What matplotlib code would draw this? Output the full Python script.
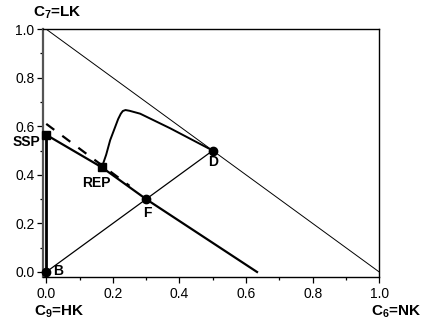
import numpy as np
import matplotlib
matplotlib.use('Agg')
import matplotlib.pyplot as plt
from matplotlib.ticker import MultipleLocator, FormatStrFormatter

params = {
    'font.family': ['Liberation Sans', 'DejaVu Sans'],
    'mathtext.default': 'regular',
    'xtick.labelsize': 10,
    'ytick.labelsize': 10,
}
plt.rcParams.update(params)

# data
diag_x = [0.0, 1.0]
diag_y = [1.0, 0.0]
bd_x = [0.0, 0.5]
bd_y = [0.0, 0.5]
vert_x = [0.0, 0.0]
vert_y = [0.0, 0.565]
main_x = [0.0, 0.167, 0.30, 0.633]
main_y = [0.565, 0.431, 0.30, 0.0]
dash_x = [0.0, 0.25]
dash_y = [0.61, 0.355]
curve_x = [0.167, 0.180, 0.192, 0.205, 0.216, 0.224, 0.230, 0.238, 0.250, 0.282, 0.372, 0.50]
curve_y = [0.431, 0.483, 0.543, 0.590, 0.630, 0.652, 0.663, 0.667, 0.664, 0.652, 0.592, 0.50]
circ_x = [0.0, 0.30, 0.50]
circ_y = [0.0, 0.30, 0.50]
sq_x = [0.0, 0.167]
sq_y = [0.565, 0.431]

fig = plt.figure(figsize=(4.29, 3.28), dpi=100)
ax = fig.add_axes([0.100, 0.156, 0.784, 0.755])

ax.plot(diag_x, diag_y, color='black', lw=0.7)
ax.plot(bd_x, bd_y, color='black', lw=0.9)
ax.plot(vert_x, vert_y, color='black', lw=2.0)
ax.plot(main_x, main_y, color='black', lw=1.6)
ax.plot(dash_x, dash_y, color='black', lw=1.6, dashes=(4.5, 4.5))
ax.plot(curve_x, curve_y, color='black', lw=1.4)
ax.plot(circ_x, circ_y, 'o', color='black', ms=6, clip_on=False, zorder=5)
ax.plot(sq_x, sq_y, 's', color='black', ms=5.5, clip_on=False, zorder=5)

ax.set_xlim(-0.01, 1.0)
ax.set_ylim(-0.02, 1.0)
ax.xaxis.set_major_locator(MultipleLocator(0.2))
ax.xaxis.set_minor_locator(MultipleLocator(0.1))
ax.yaxis.set_major_locator(MultipleLocator(0.2))
ax.yaxis.set_minor_locator(MultipleLocator(0.1))
ax.xaxis.set_major_formatter(FormatStrFormatter('%.1f'))
ax.yaxis.set_major_formatter(FormatStrFormatter('%.1f'))
ax.tick_params(which='major', direction='out', length=4, width=0.9, pad=2)
ax.tick_params(which='minor', direction='out', length=2.5, width=0.9)
ax.tick_params(axis='x', pad=3)
for s in ['top', 'right', 'bottom']:
    ax.spines[s].set_linewidth(1.0)
ax.spines['left'].set_linewidth(1.6)
ax.spines['left'].set_color('#555555')


def ftext(px, py, s, size=10):
    fig.text(px / 429.0, 1 - py / 328.0, s, ha='center', va='center',
             fontsize=size, fontweight='bold')


ftext(57, 13, 'C$_7$=LK', 11)
ftext(59, 312, 'C$_9$=HK', 11)
ftext(396, 312, 'C$_6$=NK', 11)
ftext(26, 142, 'SSP')
ftext(96, 183, 'REP')
ftext(147, 213, 'F')
ftext(213, 162, 'D')
ftext(58, 271, 'B')

fig.savefig('out.png', dpi=100)
